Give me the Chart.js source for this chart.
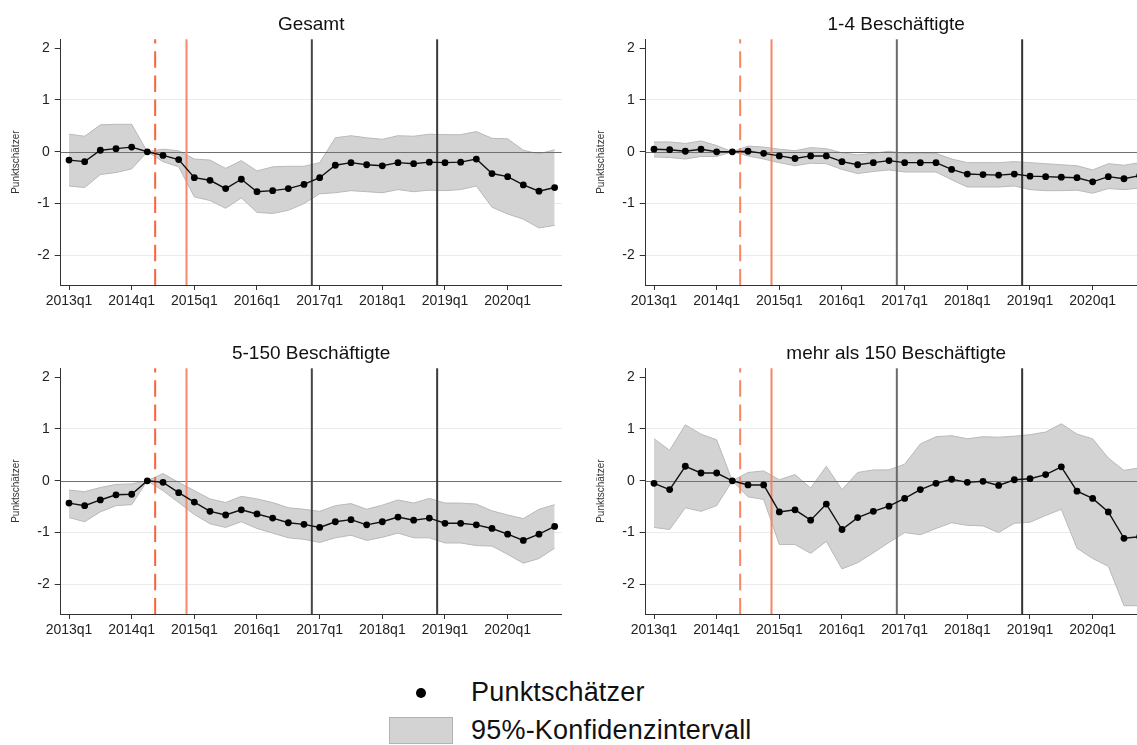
<!DOCTYPE html>
<html>
<head>
<meta charset="utf-8">
<script src="https://cdn.jsdelivr.net/npm/chart.js@4.4.1/dist/chart.umd.min.js"></script>
<style>
  html, body { margin: 0; padding: 0; background: #fff; overflow: hidden; }
  #page { position: relative; width: 1137px; height: 745px; overflow: hidden; font-family: Arial, "Liberation Sans", sans-serif; }
  #page canvas { position: absolute; }
  .leg-text { position: absolute; font-size: 27px; letter-spacing: 0.2px; line-height: 30px; color: #111; white-space: nowrap; }
  #leg-dot { position: absolute; left: 416px; top: 688px; width: 10px; height: 10px; border-radius: 50%; background: #000; }
  #leg-box { position: absolute; left: 389px; top: 717px; width: 62px; height: 25px; background: #d3d3d3; border: 1px solid #b3b3b3; }
</style>
</head>
<body>
<div id="page">
  <canvas id="c0" width="570" height="320" style="left:0;top:0"></canvas>
  <canvas id="c1" width="570" height="320" style="left:585px;top:0"></canvas>
  <canvas id="c2" width="570" height="320" style="left:0;top:329px"></canvas>
  <canvas id="c3" width="570" height="320" style="left:585px;top:329px"></canvas>
  <div id="leg-dot"></div>
  <div class="leg-text" style="left:471px;top:677px">Punktschätzer</div>
  <div id="leg-box"></div>
  <div class="leg-text" style="left:471px;top:715px">95%-Konfidenzintervall</div>
</div>
<script>
const quarters = [
  '2013q1', '2013q2', '2013q3', '2013q4', '2014q1', '2014q2', '2014q3', '2014q4',
  '2015q1', '2015q2', '2015q3', '2015q4', '2016q1', '2016q2', '2016q3', '2016q4',
  '2017q1', '2017q2', '2017q3', '2017q4', '2018q1', '2018q2', '2018q3', '2018q4',
  '2019q1', '2019q2', '2019q3', '2019q4', '2020q1', '2020q2', '2020q3', '2020q4'
];
const tickLabels = ['2013q1', '2014q1', '2015q1', '2016q1', '2017q1', '2018q1', '2019q1', '2020q1'];
const yTicks = [-2, -1, 0, 1, 2];

// vertical markers, in quarter index units (between two quarters)
const eventQuarters = [5.5, 7.5, 15.5, 23.5];

const panelTitles = ['Gesamt', '1-4 Beschäftigte', '5-150 Beschäftigte', 'mehr als 150 Beschäftigte'];

// Gesamt
const gesamtEst = [-0.16, -0.19, 0.03, 0.06, 0.09, 0, -0.07, -0.15, -0.50, -0.55, -0.71, -0.53, -0.77, -0.75, -0.71, -0.63,
  -0.50, -0.26, -0.21, -0.25, -0.27, -0.21, -0.23, -0.20, -0.21, -0.20, -0.14, -0.42, -0.48, -0.64, -0.76, -0.69];
const gesamtHi = [0.34, 0.30, 0.52, 0.53, 0.53, 0, 0.05, 0.02, -0.14, -0.16, -0.32, -0.17, -0.37, -0.29, -0.28, -0.28,
  -0.21, 0.27, 0.31, 0.27, 0.24, 0.31, 0.30, 0.34, 0.33, 0.33, 0.39, 0.26, 0.25, 0.03, -0.04, 0.04];
const gesamtLo = [-0.66, -0.69, -0.44, -0.40, -0.33, 0, -0.19, -0.29, -0.87, -0.94, -1.09, -0.89, -1.17, -1.19, -1.13, -1.00,
  -0.81, -0.79, -0.75, -0.77, -0.79, -0.73, -0.77, -0.74, -0.75, -0.73, -0.66, -1.07, -1.20, -1.30, -1.47, -1.42];

// 1-4 Beschäftigte
const smallEst = [0.05, 0.04, 0.01, 0.05, 0.00, 0, 0.01, -0.03, -0.08, -0.13, -0.08, -0.08, -0.19, -0.25, -0.21, -0.17,
  -0.21, -0.21, -0.21, -0.34, -0.43, -0.44, -0.45, -0.43, -0.47, -0.48, -0.49, -0.50, -0.58, -0.48, -0.52, -0.46];
const smallHi = [0.19, 0.19, 0.16, 0.21, 0.12, 0, 0.11, 0.09, 0.05, 0.02, 0.08, 0.06, -0.02, -0.06, -0.03, 0.01,
  -0.03, -0.03, -0.03, -0.14, -0.21, -0.21, -0.21, -0.19, -0.21, -0.23, -0.25, -0.27, -0.35, -0.23, -0.26, -0.21];
const smallLo = [-0.10, -0.11, -0.14, -0.09, -0.09, 0, -0.08, -0.14, -0.21, -0.27, -0.22, -0.23, -0.34, -0.42, -0.38, -0.35,
  -0.39, -0.39, -0.39, -0.54, -0.68, -0.68, -0.68, -0.66, -0.73, -0.75, -0.75, -0.74, -0.80, -0.71, -0.73, -0.70];

// 5-150 Beschäftigte
const midEst = [-0.43, -0.48, -0.37, -0.27, -0.26, 0, -0.03, -0.23, -0.41, -0.59, -0.66, -0.56, -0.64, -0.72, -0.81, -0.84,
  -0.90, -0.79, -0.75, -0.85, -0.79, -0.70, -0.76, -0.72, -0.82, -0.82, -0.85, -0.92, -1.03, -1.15, -1.03, -0.88];
const midHi = [-0.18, -0.21, -0.13, -0.07, -0.06, 0, 0.14, -0.03, -0.19, -0.35, -0.42, -0.30, -0.35, -0.42, -0.52, -0.55,
  -0.59, -0.48, -0.44, -0.55, -0.47, -0.37, -0.43, -0.34, -0.43, -0.43, -0.45, -0.58, -0.66, -0.73, -0.55, -0.46];
const midLo = [-0.71, -0.79, -0.60, -0.48, -0.46, 0, -0.19, -0.42, -0.65, -0.83, -0.90, -0.79, -0.92, -1.01, -1.10, -1.13,
  -1.19, -1.10, -1.05, -1.15, -1.09, -1.01, -1.10, -1.10, -1.20, -1.20, -1.25, -1.26, -1.42, -1.59, -1.50, -1.30];

// mehr als 150 Beschäftigte
const largeEst = [-0.05, -0.17, 0.28, 0.15, 0.15, 0, -0.08, -0.08, -0.60, -0.56, -0.76, -0.45, -0.94, -0.71, -0.59, -0.49,
  -0.34, -0.17, -0.05, 0.03, -0.03, -0.01, -0.09, 0.02, 0.04, 0.12, 0.27, -0.20, -0.34, -0.60, -1.11, -1.08];
const largeHi = [0.81, 0.59, 1.08, 0.90, 0.79, 0, 0.16, 0.19, 0.02, 0.12, -0.14, 0.28, -0.17, 0.16, 0.21, 0.21,
  0.32, 0.71, 0.85, 0.87, 0.81, 0.85, 0.84, 0.86, 0.89, 0.94, 1.10, 0.90, 0.81, 0.44, 0.20, 0.25];
const largeLo = [-0.90, -0.94, -0.52, -0.59, -0.48, 0, -0.31, -0.36, -1.23, -1.23, -1.40, -1.17, -1.70, -1.58, -1.39, -1.19,
  -1.00, -1.04, -0.92, -0.81, -0.86, -0.87, -1.00, -0.82, -0.80, -0.67, -0.55, -1.30, -1.50, -1.65, -2.41, -2.41];

const panels = [
  { est: gesamtEst, hi: gesamtHi, lo: gesamtLo },
  { est: smallEst, hi: smallHi, lo: smallLo },
  { est: midEst, hi: midHi, lo: midLo },
  { est: largeEst, hi: largeHi, lo: largeLo }
];

// marker styles per column (the right column renders slightly lighter)
const eventStyles = [
  [
    { color: '#fb643a', width: 2, dash: [16.5, 7.7] },
    { color: '#f5896b', width: 2, dash: [] },
    { color: '#454545', width: 2, dash: [] },
    { color: '#3a3a3a', width: 2, dash: [] }
  ],
  [
    { color: '#f8875f', width: 2, dash: [16.5, 7.7] },
    { color: '#f58560', width: 2, dash: [] },
    { color: '#6a6a6a', width: 2, dash: [] },
    { color: '#333333', width: 2, dash: [] }
  ]
];

const FONT = 'Arial, "Liberation Sans", sans-serif';

// zero line and the vertical markers sit above the band, below the estimates
const refLines = {
  id: 'refLines',
  beforeDatasetDraw(chart, args, opts) {
    if (args.index !== 0) return;
    const { ctx, chartArea: a, scales: { x, y } } = chart;
    ctx.save();
    const y0 = Math.round(y.getPixelForValue(0)) + 0.5;
    ctx.strokeStyle = '#707070';
    ctx.lineWidth = 1;
    ctx.beginPath();
    ctx.moveTo(a.left, y0);
    ctx.lineTo(a.right, y0);
    ctx.stroke();
    eventQuarters.forEach((q, i) => {
      const s = eventStyles[opts.column][i];
      const px = x.getPixelForValue(q);
      ctx.strokeStyle = s.color;
      ctx.lineWidth = s.width;
      ctx.setLineDash(s.dash);
      ctx.lineDashOffset = 12.3;
      ctx.beginPath();
      ctx.moveTo(px, a.top);
      ctx.lineTo(px, a.bottom);
      ctx.stroke();
    });
    ctx.restore();
  }
};

function toPoints(values) {
  return values.map((v, i) => ({ x: i, y: v }));
}

function makeChart(id, title, p, column) {
  return new Chart(document.getElementById(id), {
    type: 'line',
    data: {
      datasets: [
        {
          data: toPoints(p.est), order: 0,
          borderColor: '#111', borderWidth: 1.4,
          pointRadius: 3.4, pointBackgroundColor: '#000', pointBorderWidth: 0,
          fill: false, tension: 0
        },
        {
          data: toPoints(p.hi), order: 1,
          borderColor: '#b9b9b9', borderWidth: 1, pointRadius: 0, fill: false
        },
        {
          data: toPoints(p.lo), order: 2,
          borderColor: '#b9b9b9', borderWidth: 1, pointRadius: 0,
          fill: '-1', backgroundColor: '#d3d3d3'
        }
      ]
    },
    options: {
      responsive: false,
      animation: false,
      events: [],
      layout: { padding: { top: 0, left: 0, right: 8.3, bottom: 0 } },
      plugins: {
        legend: { display: false },
        tooltip: { enabled: false },
        refLines: { column: column },
        title: {
          display: true, text: title, fullSize: false,
          color: '#111', font: { family: FONT, size: 19, weight: 'normal' },
          padding: { top: 13.5, bottom: 3 }
        }
      },
      scales: {
        x: {
          type: 'linear', min: -0.53, max: 31.45,
          afterBuildTicks: s => { s.ticks = tickLabels.map(l => ({ value: quarters.indexOf(l) })); },
          afterFit: s => { s.height = 35; },
          ticks: {
            callback: v => quarters[v], autoSkip: false, maxRotation: 0,
            color: '#222', font: { family: FONT, size: 14 }, padding: 3
          },
          grid: { drawOnChartArea: false, tickLength: 5, tickColor: '#333', tickWidth: 1 },
          border: { color: '#333', width: 1 }
        },
        y: {
          min: -2.57, max: 2.17,
          afterBuildTicks: s => { s.ticks = yTicks.map(v => ({ value: v })); },
          afterFit: s => { s.width = 60.7; },
          ticks: {
            callback: v => String(v),
            color: '#222', font: { family: FONT, size: 14 }, padding: 5
          },
          grid: {
            color: c => (c.tick && (c.tick.value === 0 || c.tick.value === 2)) ? 'rgba(0,0,0,0)' : '#ebebeb',
            tickLength: 6, tickColor: '#333', tickWidth: 1
          },
          border: { color: '#333', width: 1 },
          title: {
            display: true, text: 'Punktschätzer', color: '#333',
            font: { family: FONT, size: 10 }, padding: { top: 10, bottom: 0 }
          }
        }
      }
    },
    plugins: [refLines]
  });
}

panels.forEach((p, i) => makeChart('c' + i, panelTitles[i], p, i % 2));
</script>
</body>
</html>
